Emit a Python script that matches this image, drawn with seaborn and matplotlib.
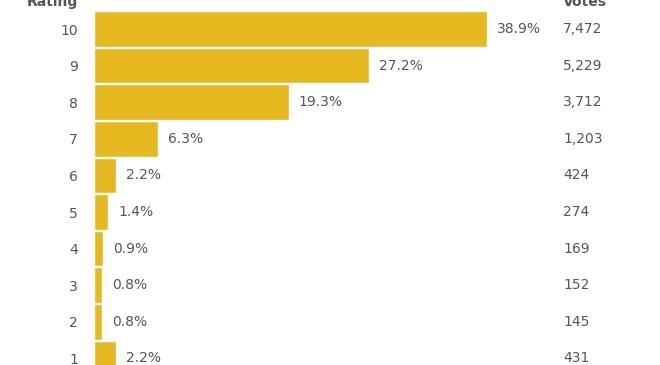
import matplotlib
matplotlib.use("Agg")
import matplotlib.pyplot as plt
import seaborn as sns
import pandas as pd

ratings = ["10", "9", "8", "7", "6", "5", "4", "3", "2", "1"]
percents = [38.9, 27.2, 19.3, 6.3, 2.2, 1.4, 0.9, 0.8, 0.8, 2.2]
votes = [7472, 5229, 3712, 1203, 424, 274, 169, 152, 145, 431]

df = pd.DataFrame({"Rating": ratings, "Percent": percents, "Votes": votes})

sns.set_theme(style="white")
plt.rcParams["font.family"] = ["DejaVu Sans"]

W, H = 660, 365
fig = plt.figure(figsize=(6.6, 3.65), dpi=100)
left_px = 94
ax = fig.add_axes([left_px / W, 0, 1 - left_px / W, 1])

bar_color = "#E5B91F"
text_color = "#555555"

sns.barplot(data=df, x="Percent", y="Rating", order=ratings, orient="h",
            color=bar_color, saturation=1, width=0.97, ax=ax, errorbar=None)

px_per_unit = 10.1
ax.set_xlim(0, (W - left_px) / px_per_unit)
pitch = 36.6
top_center = 29
ax.set_ylim((H - top_center) / pitch, -top_center / pitch)

for s in ax.spines.values():
    s.set_visible(False)
ax.set_xticks([])
ax.set_xlabel("")
ax.set_ylabel("")
ax.tick_params(axis="y", length=0, pad=11.5, labelsize=10, labelcolor=text_color)

votes_x = (563 - left_px) / px_per_unit
for i, (p, v) in enumerate(zip(percents, votes)):
    ax.text(p + 10 / px_per_unit, i, f"{p:.1f}%", va="center", ha="left",
            fontsize=10, color=text_color, clip_on=False)
    ax.text(votes_x, i, f"{v:,}", va="center", ha="left",
            fontsize=10, color=text_color, clip_on=False)

hdr_y = (6 - top_center) / pitch
ax.text((78 - left_px) / px_per_unit, hdr_y, "Rating", ha="right", va="baseline",
        fontsize=10, fontweight="bold", color=text_color, clip_on=False)
ax.text(votes_x, hdr_y, "Votes", ha="left", va="baseline",
        fontsize=10, fontweight="bold", color=text_color, clip_on=False)

fig.savefig("out.png", dpi=100)
